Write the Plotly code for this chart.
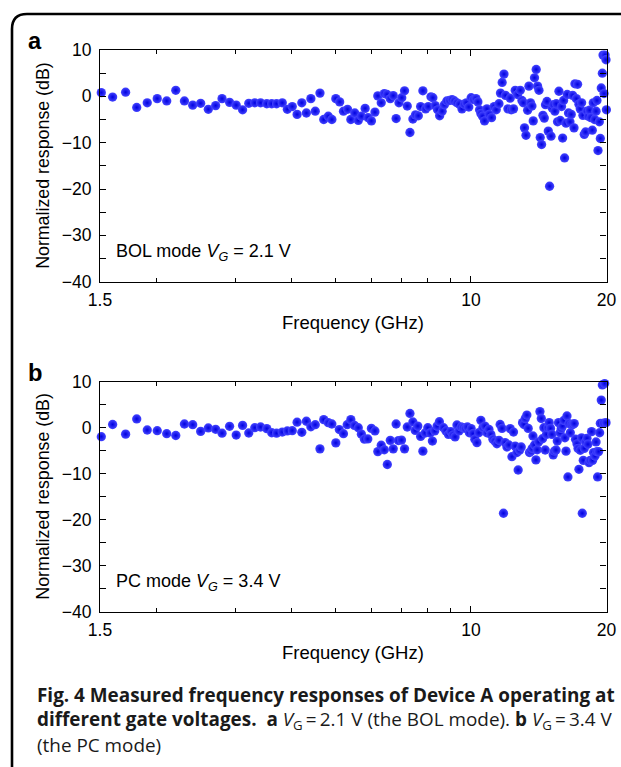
import numpy as np
import plotly.graph_objects as go

# ---------------- data ----------------
freq_a = [1.51, 1.60, 1.71, 1.81, 1.91, 2.01, 2.11, 2.21, 2.31, 2.41, 2.51, 2.61, 2.71, 2.80, 2.91,
          3.01, 3.11, 3.21, 3.31, 3.41, 3.52, 3.61, 3.70, 3.81, 3.91, 4.01, 4.11, 4.21, 4.31, 4.41,
          4.51, 4.62, 4.71, 4.82, 4.91, 5.01, 5.11, 5.21, 5.32, 5.41, 5.52, 5.62, 5.71, 5.82, 5.91,
          6.01, 6.12, 6.21, 6.32, 6.42, 6.51, 6.62, 6.72, 6.82, 6.92, 7.02, 7.12, 7.22, 7.32, 7.43,
          7.53, 7.64, 7.73, 7.82, 7.93, 8.04, 8.15, 8.23, 8.33, 8.43, 8.52, 8.63, 8.73, 8.84, 8.96,
          9.08, 9.19, 9.31, 9.43, 9.55, 9.66, 9.77, 9.89, 10.01, 10.13, 10.26, 10.36, 10.45, 10.52, 10.61,
          10.72, 10.85, 10.98, 11.11, 11.26, 11.38, 11.54, 11.63, 11.73, 11.84, 11.93, 12.08, 12.22, 12.29, 12.43,
          12.54, 12.69, 12.87, 12.98, 13.07, 13.15, 13.25, 13.36, 13.45, 13.56, 13.66, 13.75, 13.84, 13.96, 14.06,
          14.16, 14.25, 14.35, 14.45, 14.55, 14.64, 14.75, 14.85, 14.95, 15.06, 15.15, 15.25, 15.36, 15.47, 15.57,
          15.68, 15.79, 15.89, 15.98, 16.06, 16.14, 16.26, 16.36, 16.47, 16.59, 16.70, 16.82, 16.94, 17.02, 17.14,
          17.25, 17.37, 17.49, 17.61, 17.73, 17.85, 17.97, 18.10, 18.22, 18.34, 18.47, 18.60, 18.69, 18.82, 18.96,
          19.05, 19.15, 19.28, 19.38, 19.47, 19.58, 19.65, 19.75, 19.85, 19.95, 19.99]
resp_a = [0.8, -0.15, 0.9, -2.4, -1.4, -0.5, -1.0, 1.3, -1.0, -1.9, -1.5, -2.8, -2.0, -0.5, -1.3,
          -1.9, -2.9, -1.5, -1.4, -1.4, -1.6, -1.6, -1.6, -1.4, -2.8, -2.2, -3.9, -1.4, -3.6, -0.5,
          -3.2, 0.7, -5.0, -4.3, -5.0, -0.5, -1.2, -3.2, -2.8, -5.0, -3.6, -5.2, -4.3, -2.6, -4.6,
          -5.3, -3.4, 0.1, -1.4, 0.6, 0.4, -0.5, 0.15, -4.8, -1.4, -0.3, 1.2, -2.1, -7.8, -4.9,
          -4.0, -4.2, -2.2, 1.2, -2.7, -2.2, -0.1, -0.3, -2.0, -2.9, -4.2, -3.2, -1.8, -1.0, -0.9,
          -0.7, -1.0, -1.4, -1.7, -2.7, -1.7, -1.4, -2.3, -0.3, -0.7, -0.5, -1.2, -2.9, -3.7, -4.3,
          -5.3, -2.7, -3.9, -4.6, -2.2, -2.9, -1.6, 0.7, 3.0, 4.8, 0.2, -2.7, -0.4, -2.9, -2.7,
          1.3, 0.4, 1.3, -0.9, -1.4, -6.8, -8.4, -3.0, 2.2, -1.4, -2.1, -5.3, 4.0, 5.8, 2.2,
          1.3, -8.9, -10.4, -4.1, -4.7, -1.8, -1.1, -7.5, -19.4, -8.6, -2.5, -1.8, -3.2, -1.6, -5.5,
          1.1, -5.2, -2.2, -9.0, -0.9, -13.3, -5.8, 0.4, -3.6, -5.5, -3.9, 0.2, -6.8, 2.7, -0.5,
          2.6, -1.7, -2.7, -1.4, -4.1, -8.2, -7.7, -3.2, -4.3, -3.0, -4.6, -7.3, -1.4, -5.0, -3.2,
          -0.9, -11.7, -5.5, -9.1, 1.8, 5.0, 8.9, 0.6, 8.9, 7.9, -2.9]

freq_b = [1.51, 1.60, 1.71, 1.81, 1.91, 2.01, 2.11, 2.21, 2.31, 2.41, 2.51, 2.61, 2.71, 2.80, 2.91,
          3.01, 3.11, 3.21, 3.31, 3.41, 3.52, 3.61, 3.70, 3.81, 3.91, 4.01, 4.11, 4.21, 4.31, 4.41,
          4.51, 4.62, 4.71, 4.82, 4.91, 5.01, 5.10, 5.21, 5.31, 5.41, 5.51, 5.62, 5.71, 5.80, 5.90,
          6.01, 6.12, 6.21, 6.32, 6.42, 6.52, 6.62, 6.72, 6.82, 6.90, 7.01, 7.12, 7.22, 7.32, 7.43,
          7.52, 7.62, 7.73, 7.82, 7.91, 8.02, 8.12, 8.21, 8.31, 8.41, 8.51, 8.69, 8.80, 8.91, 9.02,
          9.12, 9.22, 9.31, 9.41, 9.51, 9.62, 9.72, 9.82, 9.92, 10.01, 10.10, 10.20, 10.31, 10.41, 10.52,
          10.63, 10.74, 10.85, 10.96, 11.07, 11.19, 11.30, 11.42, 11.54, 11.61, 11.72, 11.81, 11.91, 12.02, 12.14,
          12.22, 12.33, 12.43, 12.54, 12.65, 12.73, 12.82, 12.93, 13.02, 13.11, 13.20, 13.31, 13.40, 13.49, 13.59,
          13.68, 13.73, 13.84, 13.94, 14.03, 14.13, 14.23, 14.33, 14.42, 14.52, 14.62, 14.72, 14.82, 14.92, 15.02,
          15.13, 15.23, 15.33, 15.45, 15.55, 15.65, 15.77, 15.87, 15.97, 16.09, 16.17, 16.26, 16.34, 16.42, 16.51,
          16.62, 16.70, 16.85, 16.96, 17.07, 17.20, 17.29, 17.37, 17.49, 17.61, 17.67, 17.76, 17.85, 17.97, 18.10,
          18.19, 18.29, 18.41, 18.53, 18.63, 18.72, 18.86, 18.96, 19.05, 19.11, 19.21, 19.31, 19.38, 19.47, 19.58,
          19.71, 19.81, 19.95]
resp_b = [-1.95, 0.7, -1.4, 1.9, -0.5, -0.65, -1.3, -1.7, 0.8, 0.65, -0.8, -0.05, -0.35, -1.2, 0.3,
          -1.6, 0.5, -1.15, 0.0, 0.15, -0.2, -1.1, -1.2, -0.95, -0.7, -0.65, 1.2, -1.0, 1.4, 0.2,
          0.65, -4.6, 1.75, 1.1, 0.8, -3.3, -0.4, -1.3, 0.65, 1.75, 0.5, 0.0, -1.4, -2.5, -2.45,
          -0.15, -0.7, -5.2, -3.8, -4.8, -8.0, -2.75, -4.6, 0.8, -2.8, -2.7, -4.6, 0.15, 3.1, 1.25,
          -0.6, 0.35, -1.9, -5.1, -1.15, 0.0, -1.15, -2.9, -0.7, 0.35, 1.3, 0.0, -0.7, -1.45, -0.85,
          -1.6, -2.0, 0.6, -0.7, 0.15, 0.0, -0.15, 0.15, -1.1, -0.2, -1.3, -2.5, -3.25, -1.1, 1.6,
          0.0, 0.35, -1.1, -0.35, -1.45, -2.5, -2.9, -3.5, -2.75, 0.7, -0.15, -18.6, -3.25, -4.2, -3.75,
          -0.2, -6.3, -0.95, -4.0, -5.4, -9.2, -4.9, -4.2, 1.1, 0.7, 2.0, 2.75, -0.15, -5.4, -5.1,
          -4.5, -1.8, -3.75, -7.0, -4.8, -3.1, 3.5, 2.0, -2.4, 0.0, -4.85, -1.45, 0.0, 1.1, -0.15,
          -1.45, -5.9, -5.1, -4.85, -2.9, 1.1, -1.1, -0.15, 0.35, 1.6, -2.2, -5.1, 2.55, -10.7, 0.9,
          -1.1, 0.7, 0.7, 0.9, -2.5, -3.5, -4.5, -9.05, -4.9, -2.2, -18.6, -7.1, -4.5, -3.05, -2.3,
          -3.6, -7.6, -7.1, -0.85, -7.1, -5.4, -6.15, -3.1, -5.2, -10.7, -5.2, -1.1, 0.95, 6.0, 9.3,
          1.0, 9.6, 1.1]

x_tickvals = [1.5, 10, 20]
x_ticktext = ["1.5", "10", "20"]
x_minor_vals = [2, 3, 4, 5, 6, 7, 8, 9]
y_tickvals = [-40, -30, -20, -10, 0, 10]
y_ticktext = ["\u221240", "\u221230", "\u221220", "\u221210", "0", "10"]
y_minor_vals = [-35, -25, -15, -5, 5]

panel_labels = ["a", "b"]
mode_texts = ["BOL mode <i>V</i><sub><i>G</i></sub> = 2.1 V",
              "PC mode <i>V</i><sub><i>G</i></sub> = 3.4 V"]
y_title = "Normalized response (dB)"
x_title = "Frequency (GHz)"
caption_lines = [
    "<b>Fig. 4 Measured frequency responses of Device A operating at</b>",
    "<b>different gate voltages.</b>  <b>a</b> <i>V</i><sub>G</sub>\u2009=\u20092.1 V (the BOL mode). "
    "<b>b</b> <i>V</i><sub>G</sub>\u2009=\u20093.4 V",
    "(the PC mode)",
]

# ---------------- layout helpers (pixel positions -> paper fractions) ----------------
W, H = 621, 767


def fx(t):
    return t / W


def fy(t):
    return 1 - t / H


AX_L, AX_R = 100, 606.5
PANELS = [(50, 281.7), (381.7, 611.7)]  # top, bottom in px

FONT = "Liberation Sans, Arial, Helvetica, sans-serif"
tickfont = dict(family=FONT, size=17.5, color="black")

marker = dict(size=9.3, color="#4545ff",
              gradient=dict(type="radial", color="#0000e0"),
              line=dict(width=0))

fig = go.Figure()
fig.add_trace(go.Scatter(x=freq_a, y=resp_a, mode="markers", marker=marker,
                         xaxis="x", yaxis="y", cliponaxis=False, showlegend=False))
fig.add_trace(go.Scatter(x=freq_b, y=resp_b, mode="markers", marker=marker,
                         xaxis="x2", yaxis="y2", cliponaxis=False, showlegend=False))


def xaxis(anchor):
    return dict(type="log", domain=[fx(AX_L), fx(AX_R)], anchor=anchor, automargin=False,
                range=[np.log10(1.5), np.log10(20)],
                tickvals=x_tickvals, ticktext=x_ticktext,
                ticks="inside", ticklen=6, tickwidth=1, tickcolor="black",
                showline=True, linecolor="black", linewidth=1.2, mirror="ticks",
                showgrid=False, zeroline=False, tickfont=tickfont, ticklabelstandoff=2,
                minor=dict(tickvals=x_minor_vals, ticks="inside", ticklen=4,
                           tickwidth=1, tickcolor="black", showgrid=False))


def yaxis(anchor, top, bot):
    return dict(domain=[fy(bot), fy(top)], anchor=anchor, automargin=False,
                range=[-40, 10], tickvals=y_tickvals, ticktext=y_ticktext,
                ticks="inside", ticklen=6, tickwidth=1, tickcolor="black",
                showline=True, linecolor="black", linewidth=1.2, mirror="ticks",
                showgrid=False, zeroline=False, tickfont=tickfont, ticklabelstandoff=4,
                minor=dict(tickvals=y_minor_vals, ticks="inside", ticklen=6,
                           tickwidth=1, tickcolor="black", showgrid=False))


annotations = []
for i, (top, bot) in enumerate(PANELS):
    mid = (top + bot) / 2
    annotations.append(dict(text=y_title, x=fx(43), y=fy(mid), xref="paper", yref="paper",
                            textangle=-90, showarrow=False, xanchor="center", yanchor="middle",
                            font=dict(family=FONT, size=17.8, color="black")))
    annotations.append(dict(text=x_title, x=fx((AX_L + AX_R) / 2), y=fy(bot + 41), xref="paper",
                            yref="paper", showarrow=False, xanchor="center", yanchor="middle",
                            font=dict(family=FONT, size=18.5, color="black")))
    annotations.append(dict(text="<b>" + panel_labels[i] + "</b>", x=fx(35), y=fy(top - 9),
                            xref="paper", yref="paper", showarrow=False, xanchor="center",
                            yanchor="middle", font=dict(family=FONT, size=23.7, color="black")))
    annotations.append(dict(text=mode_texts[i], x=fx(114), y=fy(bot - 29), xref="paper",
                            yref="paper", showarrow=False, xanchor="left", yanchor="middle",
                            font=dict(family=FONT, size=18, color="black")))

for j, line in enumerate(caption_lines):
    annotations.append(dict(text=line, x=fx(35), y=fy(695 + 25 * j), xref="paper", yref="paper",
                            showarrow=False, xanchor="left", yanchor="middle", align="left",
                            font=dict(family="Open Sans, sans-serif", size=18.9,
                                      color="#1a1a1a")))

bx, by = fx(12), fy(14)
rx, ry = 15 / W, 15 / H
border = dict(type="path", xref="paper", yref="paper",
              path=f"M {bx},-0.1 L {bx},{by - ry} Q {bx},{by} {bx + rx},{by} L 1.1,{by}",
              line=dict(color="black", width=2.6))

fig.update_layout(
    width=W, height=H, margin=dict(l=0, r=0, t=0, b=0, autoexpand=False),
    paper_bgcolor="white", plot_bgcolor="white", showlegend=False,
    xaxis=xaxis("y"), yaxis=yaxis("x", *PANELS[0]),
    xaxis2=xaxis("y2"), yaxis2=yaxis("x2", *PANELS[1]),
    annotations=annotations, shapes=[border],
)

fig.write_html("out.html", config={"displayModeBar": False},
               post_script="document.body.style.margin='0';document.body.style.overflow='hidden';")
